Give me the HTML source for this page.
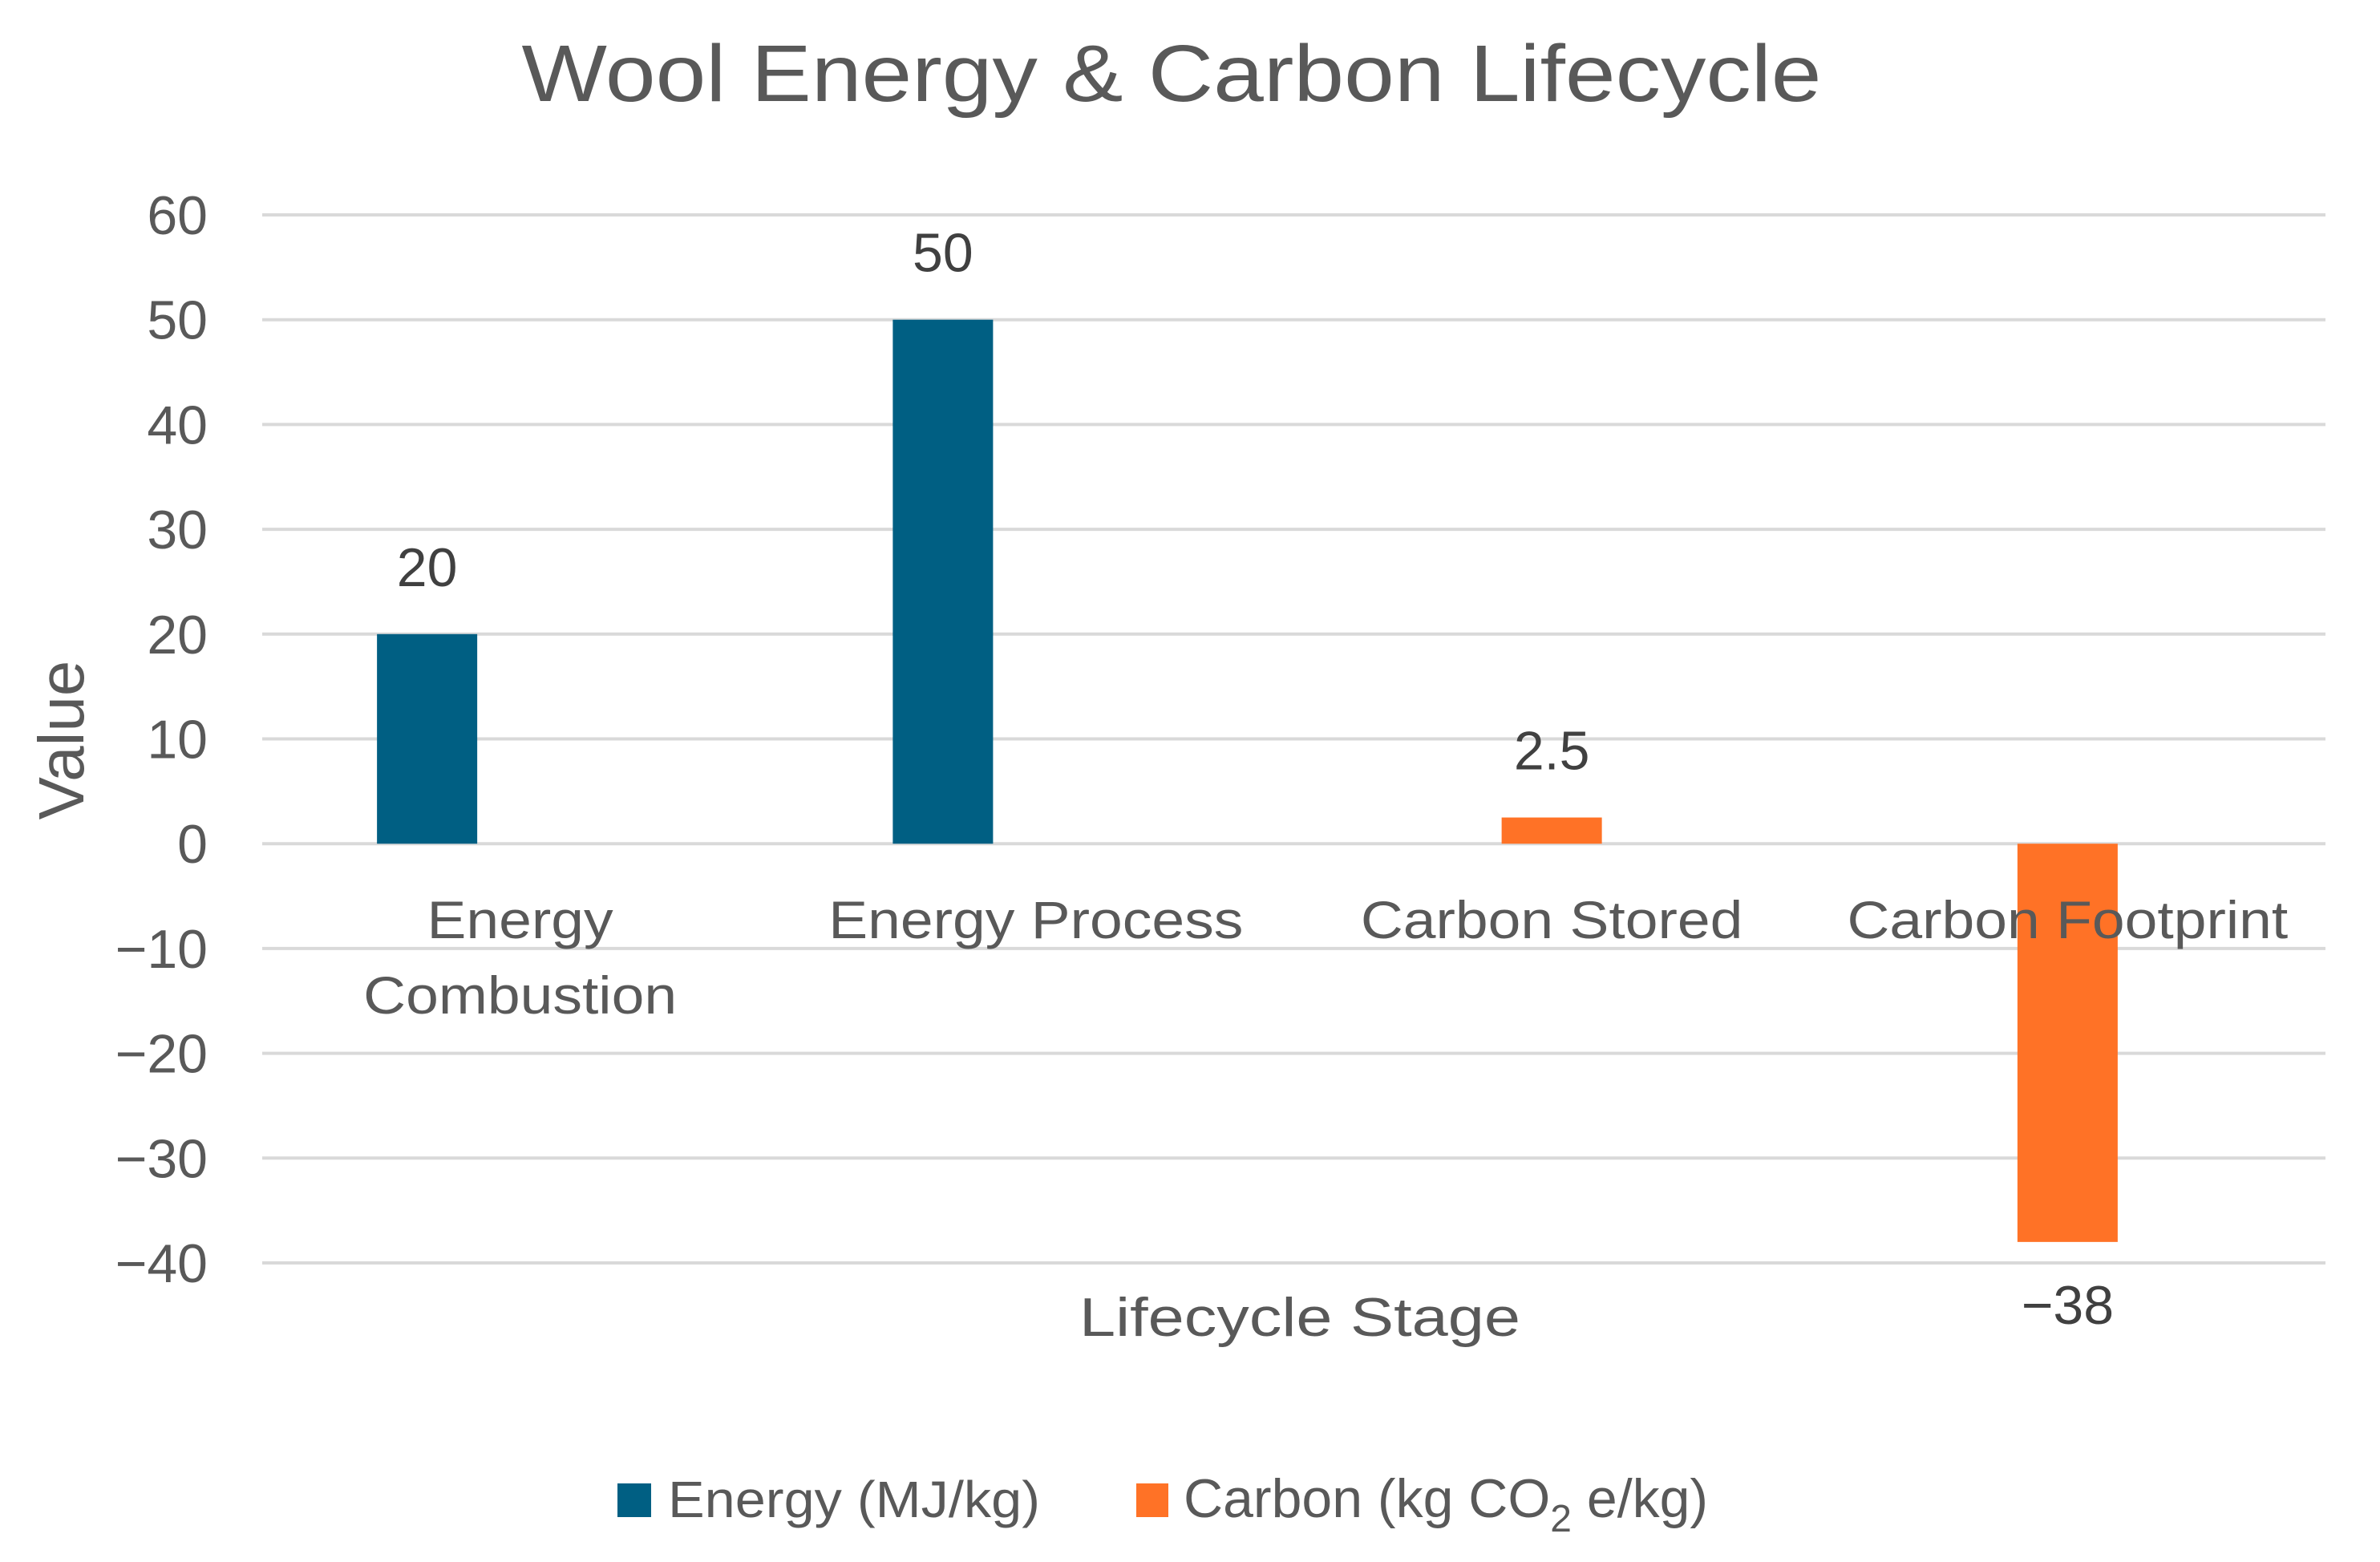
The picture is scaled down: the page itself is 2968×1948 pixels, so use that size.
<!DOCTYPE html>
<html><head><meta charset="utf-8"><style>
html,body{margin:0;padding:0;background:#fff;}
svg{display:block;font-family:"Liberation Sans",sans-serif;}
</style></head><body>
<svg id="chart" width="2968" height="1948" viewBox="0 0 2968 1948" xmlns="http://www.w3.org/2000/svg">
<rect width="2968" height="1948" fill="#fff"/>
<text x="1461" y="126" font-size="100" fill="#595959" text-anchor="middle" textLength="1621" lengthAdjust="spacingAndGlyphs">Wool Energy &amp; Carbon Lifecycle</text>
<g id="grid"></g><g id="yticks"></g><g id="bars"></g><g id="labels"></g><g id="cats"></g>
<text x="0" y="0" transform="translate(104,923) rotate(-90)" font-size="80" fill="#595959" text-anchor="middle">Value</text>
<text x="1621" y="1666" font-size="68" fill="#595959" text-anchor="middle" textLength="550" lengthAdjust="spacingAndGlyphs">Lifecycle Stage</text>
<g>
<g>
<rect x="770" y="1850" width="42" height="42" fill="#005f83"/>
<text x="833" y="1892" font-size="64" fill="#595959" textLength="464" lengthAdjust="spacingAndGlyphs">Energy (MJ/kg)</text>
</g>
<g>
<rect x="1417" y="1850" width="40" height="42" fill="#ff7226"/>
<text x="1476" y="1892" font-size="68" fill="#595959">Carbon (kg CO<tspan dy="18" font-size="48">2</tspan><tspan dy="-18"> e/kg)</tspan></text>
</g>
</g>
</svg>
<script>
const categories = ["Energy Combustion", "Energy Process", "Carbon Stored", "Carbon Footprint"];
const energyValues = [20, 50, null, null];
const carbonValues = [null, null, 2.5, -38];
const yTicks = [60, 50, 40, 30, 20, 10, 0, -10, -20, -30, -40];
const tickLabels = ["60", "50", "40", "30", "20", "10", "0", "\u221210", "\u221220", "\u221230", "\u221240"];

const NS = "http://www.w3.org/2000/svg";
const plotL = 327, plotR = 2900, yTop = 268, yBot = 1575, vMax = 60, vMin = -40;
function y(v){ return yTop + (vMax - v) / (vMax - vMin) * (yBot - yTop); }
function xc(i){ return plotL + (i + 0.5) * (plotR - plotL) / categories.length; }
function mk(tag, attrs, parent){ const e = document.createElementNS(NS, tag); for (const k in attrs) e.setAttribute(k, attrs[k]); parent.appendChild(e); return e; }
const grid = document.getElementById('grid'), yt = document.getElementById('yticks'),
  bars = document.getElementById('bars'), labels = document.getElementById('labels'), cats = document.getElementById('cats');

yTicks.forEach((t, i) => {
  const l = mk('line', {x1: plotL, x2: plotR, y1: y(t), y2: y(t), stroke: '#d9d9d9', 'stroke-width': 4}, grid);
  
  
  const tx = mk('text', {x: 259, y: y(t) + 24, 'font-size': 68, fill: '#595959', 'text-anchor': 'end'}, yt);
  tx.textContent = tickLabels[i];
  
  
});

const bw = 125;
function drawSeries(vals, off, color, name){
  vals.forEach((v, i) => {
    if (v === null) return;
    const cx = xc(i) + off;
    const top = Math.min(y(v), y(0)), h = Math.abs(y(v) - y(0));
    const r = mk('rect', {x: cx - bw/2, y: top, width: bw, height: h, fill: color}, bars);
    
    
    const ly = v >= 0 ? y(v) - 60 : y(vMin) + 76;
    const t = mk('text', {x: cx, y: ly, 'font-size': 68, fill: '#404040', 'text-anchor': 'middle'}, labels);
    t.textContent = v < 0 ? '\u2212' + Math.abs(v) : String(v);
    
    
  });
}
drawSeries(energyValues, -116, '#005f83', 'energy');
drawSeries(carbonValues, 0, '#ff7226', 'carbon');

function widen(t){ const w = t.getComputedTextLength(); t.setAttribute('textLength', (w * 1.11).toFixed(1)); t.setAttribute('lengthAdjust', 'spacingAndGlyphs'); }
categories.forEach((c, i) => {
  const lines = c === "Energy Combustion" ? ["Energy", "Combustion"] : [c];
  lines.forEach((ln, j) => {
    const t = mk('text', {x: xc(i), y: 1170 + j * 94, 'font-size': 66, fill: '#595959', 'text-anchor': 'middle'}, cats);
    t.textContent = ln;
    
    
    widen(t);
  });
});
</script>
</body></html>
